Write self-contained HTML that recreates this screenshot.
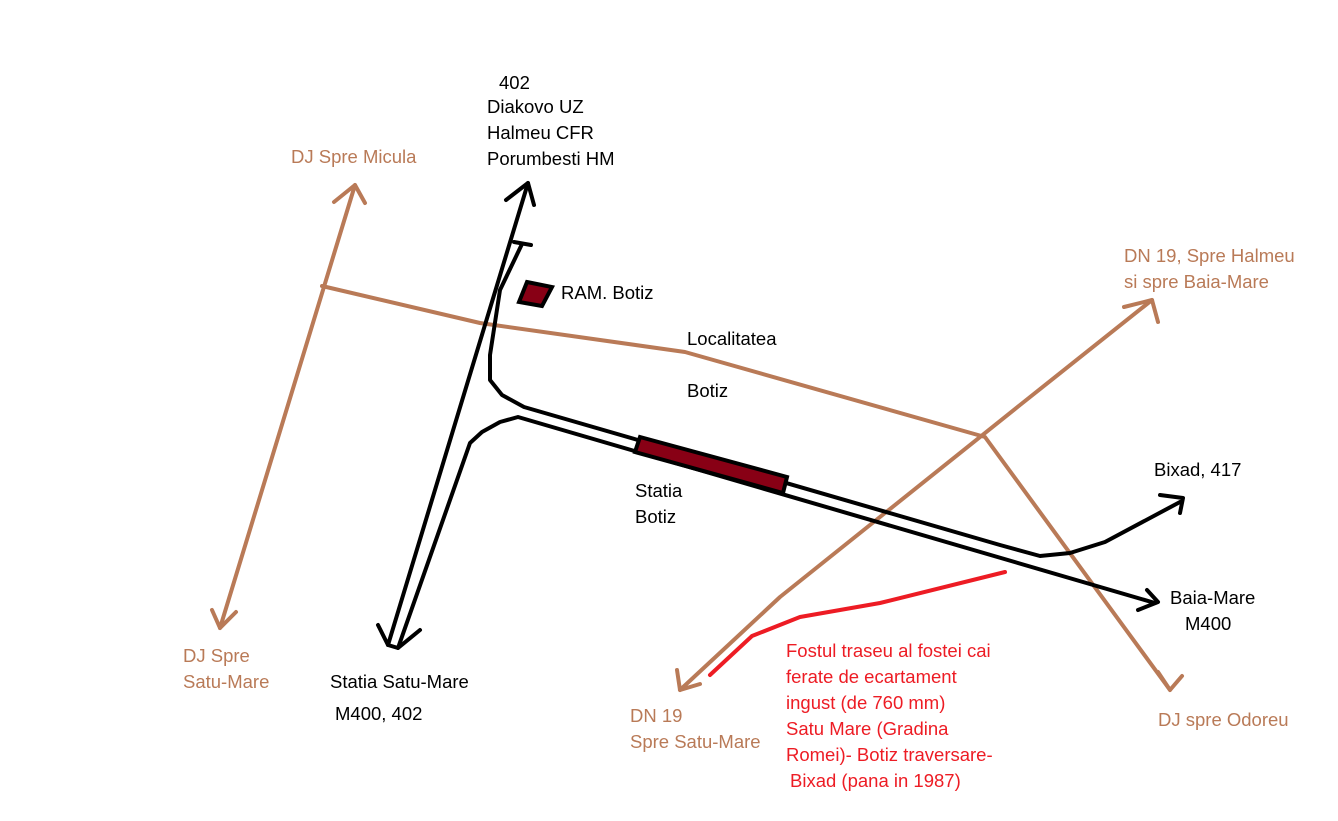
<!DOCTYPE html>
<html><head><style>
html,body{margin:0;padding:0;background:#fff;}
svg{display:block;}
text{font-family:"Liberation Sans",sans-serif;font-size:18.5px;}
.b{fill:#b97a57}.k{fill:#000}.r{fill:#ed1c24}
</style></head><body>
<svg width="1338" height="821" viewBox="0 0 1338 821">
<g fill="none" stroke="#b97a57" stroke-width="4" stroke-linecap="round" stroke-linejoin="round">
<path d="M355,185 L220,628"/>
<path d="M334,202 L355,185 L365,203"/>
<path d="M212,610 L220,628 L236,612"/>
<path d="M322,286 L480,323 L685,352 L985,437 L1170,690"/>
<path d="M1158,672 L1170,690 L1182,676"/>
<path d="M680,690 L780,597 L1020,405 L1152,300"/>
<path d="M1124,307 L1152,300 L1158,322"/>
<path d="M677,670 L680,690 L700,684"/>
</g>
<g fill="none" stroke="#000" stroke-width="4" stroke-linecap="round" stroke-linejoin="round">
<path d="M528,183 L388,645"/>
<path d="M506,200 L528,183 L534,205"/>
<path d="M514,242 L531,245"/>
<path d="M522,244 L500,290 L490,355 L490,380 L502,395 L524,407 L1000,545 L1040,556 L1070,553 L1105,542 L1180,502"/>
<path d="M1160,495 L1183,498 L1180,513"/>
<path d="M398,648 L470,443 L482,432 L500,422 L518,417 L1155,603"/>
<path d="M1147,590 L1158,602 L1138,610"/>
<path d="M378,625 L388,645 L398,648 L420,630"/>
</g>
<polygon points="640,437 787,477 783,493 635,452" fill="#880015" stroke="#000" stroke-width="4"/>
<polygon points="527,282 552,287 542,306 519,302" fill="#880015" stroke="#000" stroke-width="4"/>
<path d="M710,675 L752,636 L800,617 L880,603 L1005,572" fill="none" stroke="#ed1c24" stroke-width="4" stroke-linecap="round" stroke-linejoin="round"/>
<text class="k" x="499" y="89">402</text>
<text class="k" x="487" y="113">Diakovo UZ</text>
<text class="k" x="487" y="139">Halmeu CFR</text>
<text class="k" x="487" y="165">Porumbesti HM</text>
<text class="b" x="291" y="163">DJ Spre Micula</text>
<text class="k" x="561" y="299">RAM. Botiz</text>
<text class="k" x="687" y="345">Localitatea</text>
<text class="k" x="687" y="397">Botiz</text>
<text class="b" x="1124" y="262">DN 19, Spre Halmeu</text>
<text class="b" x="1124" y="288">si spre Baia-Mare</text>
<text class="k" x="1154" y="476">Bixad, 417</text>
<text class="k" x="635" y="497">Statia</text>
<text class="k" x="635" y="523">Botiz</text>
<text class="k" x="1170" y="604">Baia-Mare</text>
<text class="k" x="1185" y="630">M400</text>
<text class="b" x="183" y="662">DJ Spre</text>
<text class="b" x="183" y="688">Satu-Mare</text>
<text class="k" x="330" y="688">Statia Satu-Mare</text>
<text class="k" x="335" y="720">M400, 402</text>
<text class="r" x="786" y="657">Fostul traseu al fostei cai</text>
<text class="r" x="786" y="683">ferate de ecartament</text>
<text class="r" x="786" y="709">ingust (de 760 mm)</text>
<text class="r" x="786" y="735">Satu Mare (Gradina</text>
<text class="r" x="786" y="761">Romei)- Botiz traversare-</text>
<text class="r" x="790" y="787">Bixad (pana in 1987)</text>
<text class="b" x="630" y="722">DN 19</text>
<text class="b" x="630" y="748">Spre Satu-Mare</text>
<text class="b" x="1158" y="726">DJ spre Odoreu</text>
</svg>
</body></html>
